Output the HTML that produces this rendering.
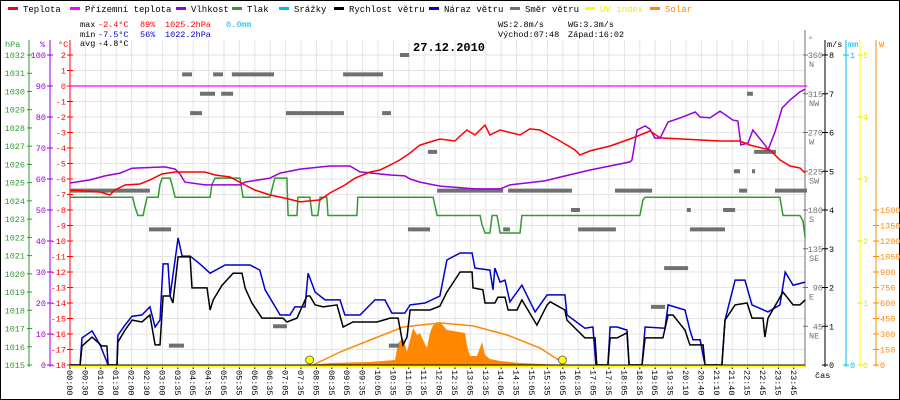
<!DOCTYPE html>
<html><head><meta charset="utf-8">
<style>
html,body{margin:0;padding:0;background:#fff;}
svg{display:block;font-family:"Liberation Mono",monospace;}
</style></head>
<body>
<svg id="chart" width="900" height="400" viewBox="0 0 900 400" xmlns="http://www.w3.org/2000/svg"></svg>
<script>
// ---- data ----
const timeLabels = ["00:00","00:30","01:00","01:30","02:00","02:30","03:00","03:35","04:05","04:35","05:05","05:35","06:05","06:35","07:05","07:35","08:05","08:35","09:05","09:35","10:05","10:35","11:05","11:35","12:05","12:35","13:05","13:35","14:05","14:35","15:05","15:35","16:05","16:35","17:05","17:35","18:05","18:35","19:05","19:35","20:10","20:40","21:10","21:40","22:15","22:45","23:15","23:45"];
const tempHours = [0,0.98,1.3,1.46,1.79,2.28,2.6,2.99,3.42,4.39,4.72,5.21,5.7,6.02,6.51,7.0,7.49,8.14,8.46,8.95,9.28,9.77,10.09,10.42,10.74,11.07,11.39,11.72,12.04,12.53,12.7,12.92,13.18,13.51,13.67,14.0,14.65,14.97,15.3,15.95,16.44,16.6,16.93,17.58,18.23,18.72,18.88,19.21,21.16,21.81,22.14,22.79,23.11,23.44,23.76,23.93];
const tempValues = [-6.71,-6.84,-7.03,-6.71,-6.39,-6.32,-6.06,-5.68,-5.55,-5.55,-5.74,-5.87,-6.39,-6.71,-7.03,-7.23,-7.48,-7.35,-6.9,-6.39,-5.94,-5.55,-5.42,-5.1,-4.77,-4.32,-3.81,-3.61,-3.42,-3.55,-3.23,-2.84,-3.16,-2.52,-3.16,-2.84,-3.16,-2.77,-2.84,-3.55,-4.13,-4.45,-4.19,-3.87,-3.42,-3.03,-2.9,-3.35,-3.55,-3.55,-3.81,-4.13,-4.77,-5.16,-5.29,-5.61];
const apparentHours = [0,24];
const apparentValues = [0,0];
const humHours = [0,0.65,1.14,1.63,2.02,3.09,3.42,3.58,3.74,4.39,5.53,5.7,6.51,6.84,7.49,8.46,9.11,9.44,10.42,10.9,11.07,11.39,12.04,13.18,14.0,14.32,15.46,15.95,16.93,18.23,18.29,18.46,18.72,18.88,19.04,19.21,19.47,19.86,20.35,20.51,20.83,21.16,21.58,21.74,21.84,22.07,22.23,22.62,22.72,22.95,23.18,23.44,23.76,23.93];
const humValues = [58.7,59.7,61,61.9,63.5,63.9,63.2,61.6,59,58.1,58.1,59,60.3,61.9,63.2,64.2,64.2,62.3,61.3,61,60,59,57.7,56.8,56.8,58.1,59.4,60.6,62.9,65.5,66.1,75.8,77.1,76.1,73.2,73.2,78.4,79.7,81.6,80,79.7,81.9,79,78.7,71,71.6,75.8,71,69.4,75.2,82.9,85.5,88.1,89];
const pressHours = [0,2.04,2.11,2.21,2.38,2.44,2.51,2.87,2.93,3.0,3.26,3.32,3.42,4.56,4.62,4.72,5.53,5.63,6.51,6.61,6.67,7.06,7.1,7.39,7.42,7.81,7.88,8.07,8.14,8.36,8.4,9.34,9.37,11.82,11.95,13.35,13.41,13.51,13.67,13.74,13.9,14.0,14.65,14.71,18.55,18.65,18.72,23.11,23.21,23.76,23.86,23.93];
const pressValues = [1024.2,1024.2,1023.7,1023.2,1023.2,1023.7,1024.2,1024.2,1024.9,1025.25,1025.25,1024.9,1024.2,1024.2,1024.9,1025.25,1025.25,1024.2,1024.2,1024.9,1025.25,1025.25,1023.2,1023.2,1024.2,1024.2,1023.2,1023.2,1024.2,1024.2,1023.2,1023.2,1024.2,1024.2,1023.2,1023.2,1022.7,1022.24,1022.24,1023.2,1023.2,1022.24,1022.24,1023.2,1023.2,1024.05,1024.2,1024.2,1023.2,1023.2,1022.9,1022.0];
const windHours = [0,0.33,0.39,0.72,1.04,1.2,1.24,1.53,1.56,1.79,2.02,2.34,2.6,2.77,2.93,3.03,3.26,3.35,3.52,3.91,3.97,4.46,4.56,4.66,4.95,5.31,5.6,5.7,5.92,6.25,6.93,7.06,7.39,7.71,7.81,7.98,8.24,8.69,8.89,9.21,9.99,10.42,10.68,10.84,10.97,11.07,11.72,12.04,12.27,12.7,13.09,13.12,13.44,13.51,13.83,13.93,14.16,14.26,14.55,14.71,15.2,15.53,15.63,16.11,16.18,16.76,17.09,17.15,17.51,17.58,17.81,18.13,18.2,18.62,18.72,19.3,19.47,19.63,20.02,20.18,20.61,20.67,21.22,21.32,21.65,22.04,22.2,22.56,22.62,22.72,23.21,23.54,23.76,23.93];
const windValues = [0,0,0.49,0.72,0.49,0.49,0,0,0.59,0.9,1.16,1.11,1.29,0.52,0.52,1.78,1.78,1.6,2.79,2.79,1.99,1.99,1.42,1.68,2.06,2.37,2.37,1.99,1.6,1.21,1.21,1.11,1.21,1.78,1.78,1.55,1.5,1.55,0.98,1.11,1.11,1.21,1.21,0.52,0.72,1.42,1.42,1.52,1.88,2.4,2.4,1.99,1.94,1.6,1.6,1.75,1.75,1.42,1.42,1.68,1.03,1.55,1.63,1.42,1.16,0.7,0.7,0,0,0.7,0.7,0.83,0,0,0.7,0.7,1.29,1.29,0.9,0.52,0.52,0,0,1.16,1.55,1.6,1.21,1.21,0.72,1.21,1.88,1.55,1.55,1.68];
const gustHours = [0,0.33,0.39,0.72,0.98,1.24,1.53,1.56,1.79,2.02,2.34,2.6,2.77,2.93,3.03,3.19,3.26,3.52,3.65,3.91,4.23,4.56,5.05,5.86,6.18,6.35,6.84,7.16,7.32,7.65,7.75,7.98,8.3,8.79,8.95,9.44,9.93,10.25,10.48,10.9,11.07,11.56,12.04,12.27,12.7,13.09,13.18,13.67,13.77,13.83,14.0,14.16,14.32,14.71,15.14,15.53,16.11,16.18,16.76,17.02,17.12,17.51,17.58,17.81,18.13,18.2,18.62,18.72,19.37,19.47,20.02,20.18,20.28,20.51,20.67,21.22,21.32,21.65,21.97,22.2,22.72,23.11,23.28,23.54,23.93];
const gustValues = [0,0,0.7,0.88,0.52,0,0,0.77,1.03,1.26,1.29,1.5,0.98,1.16,2.61,2.61,1.78,3.28,2.81,2.81,2.61,2.37,2.58,2.58,2.45,1.94,1.29,1.29,1.5,1.5,2.37,1.88,1.68,1.68,1.29,1.29,1.68,1.68,1.34,1.34,1.55,1.6,1.78,2.71,2.89,2.89,2.5,2.45,1.94,2.5,2.14,2.19,1.63,2.06,1.37,1.81,1.81,1.29,0.95,0.98,0,0,0.98,0.98,0.9,0,0,0.98,0.95,1.55,1.42,0.9,0.65,0.65,0,0,1.16,2.19,2.19,1.55,1.37,1.55,2.4,2.06,2.14];
const dirStart = [3.65,4.66,5.27,8.89,10.74,4.23,4.92,3.91,7.03,10.16,0,2.57,11.0,11.65,11.95,14.26,17.74,21.78,22.95,22.27,22.04,21.61,22.2,16.31,20.08,21.26,14.1,16.54,20.18,19.34,18.91,6.61,3.22,10.38];
const dirEnd   = [3.97,4.98,6.64,10.19,11.04,4.72,5.31,4.3,8.92,10.45,2.6,3.29,11.72,11.95,14.1,16.34,18.95,22.04,23.99,22.98,22.23,21.81,22.3,16.6,20.21,21.65,14.32,17.77,21.32,20.12,19.37,7.06,3.71,10.71];
const dirDegrees = [337.5,337.5,337.5,337.5,360,315,315,292.5,292.5,292.5,202.5,157.5,157.5,247.5,202.5,202.5,202.5,202.5,202.5,247.5,315,225,225,180,180,180,157.5,157.5,157.5,112.5,67.5,45,22.5,22.5];
const solarHours = [7.81,8.46,9.77,10.58,10.68,10.84,10.97,11.17,11.3,11.39,11.49,11.62,11.72,11.82,12.04,12.27,12.86,12.92,13.02,13.25,13.41,13.51,13.67,14.0,14.65,16.05];
const solarValues = [0,19,29,48,213,261,126,358,290,310,242,165,310,387,416,339,310,194,87,87,223,97,58,39,19,0];
const clearSkyHours = [7.91,8.79,9.77,10.84,12.04,13.12,14.23,15.3,16.05];
const clearSkyValues = [0,126,242,368,407,378,290,165,19];
const sunEvents = [7.8,16.03];
const hpaTicks = [1015,1016,1017,1018,1019,1020,1021,1022,1023,1024,1025,1026,1027,1028,1029,1030,1031,1032];
const humTicks = [0,10,20,30,40,50,60,70,80,90,100];
const tempTicks = [2,1,0,-1,-2,-3,-4,-5,-6,-7,-8,-9,-10,-11,-12,-13,-14,-15,-16,-17,-18];
const dirTicks = [360,315,270,225,180,135,90,45];
const dirNames = ["N","NW","W","SW","S","SE","E","NE"];
const windTicks = [0,1,2,3,4,5,6,7,8];
const uvTicks = [0,1,2,3,4,5];
const solarTicks = [0,150,300,450,600,750,900,1050,1200,1350,1500];

// ---- scales ----
const X = h => 70 + h * 30.72;
const yT = t => 55 + (2 - t) * 15.5;
const yH = p => 365 - p * 3.1;
const yP = hp => 365 - (hp - 1015) * 18.235;
const yW = v => 365 - v * 38.75;
const yD = d => 365 - d / 360 * 310;
const yS = w => 365 - w * 0.103333;
const yUV = u => 365 - u * 62;

const FS = 8.5;
const svg = document.getElementById('chart');
const NS = 'http://www.w3.org/2000/svg';
function mk(tag, attrs, parent) {
  const e = document.createElementNS(NS, tag);
  for (const k in attrs) e.setAttribute(k, attrs[k]);
  (parent || svg).appendChild(e);
  return e;
}
function txt(s, x, y, fill, anchor, size, weight) {
  const t = mk('text', {x: x, y: y, fill: fill, 'font-size': size || FS, 'text-anchor': anchor || 'start', 'font-weight': weight || 'normal'});
  t.textContent = s;
  return t;
}
function pts(hs, vs, fy) { return hs.map((h, i) => X(h).toFixed(1) + ',' + fy(vs[i]).toFixed(1)).join(' '); }

// frame
let el = mk('rect', {x: 0.5, y: 0.5, width: 899, height: 399, fill: '#fff', stroke: '#000'});



// grid
for (let i = 0; i < timeLabels.length; i++) {
  const gx = 70 + i * 15.4;
  el = mk('line', {x1: gx, y1: 40, x2: gx, y2: 365, stroke: '#e4e4e4', 'stroke-width': 1});
  
  
}
for (const t of tempTicks) {
  el = mk('line', {x1: 70, y1: yT(t), x2: 805, y2: yT(t), stroke: '#e4e4e4', 'stroke-width': 1});
  
  
}

// legend
const legend = [["Teplota","#ff0000",8],["Přízemní teplota","#ff00ff",70],["Vlhkost","#9900dd",176],["Tlak","#339933",232],["Srážky","#00bbee",279],["Rychlost větru","#000000",334],["Náraz větru","#0000cc",429],["Směr větru","#707070",510],["UV index","#ffff00",585],["Solar","#ff8800",650]];
for (const [name, col, lx] of legend) {
  el = mk('line', {x1: lx, y1: 8.5, x2: lx + 10, y2: 8.5, stroke: col, 'stroke-width': 3});
  
  
  const tc = name === 'UV index' ? '#eeee00' : (name === 'Solar' ? '#ff8800' : '#000');
  el = txt(name, lx + 15, 12, tc, 'start', 9);
  
  
}

// stats
const stats = [["max",80,27,"#000"],["-2.4°C",98,27,"#ff0000"],["89%",140,27,"#ff0000"],["1025.2hPa",165,27,"#ff0000"],["0.0mm",226,27,"#00bbee"],
  ["min",80,37,"#000"],["-7.5°C",98,37,"#0000cc"],["56%",140,37,"#0000cc"],["1022.2hPa",165,37,"#0000cc"],
  ["avg",80,46,"#000"],["-4.8°C",98,46,"#000"],
  ["WS:2.8m/s",498,27,"#000"],["WG:3.3m/s",568,27,"#000"],["Východ:07:48",498,37,"#000"],["Západ:16:02",568,37,"#000"]];
for (const [s, sx, sy, c] of stats) {
  el = txt(s, sx, sy, c, 'start', FS);
  
  
}
el = txt('27.12.2010', 413, 51, '#000', 'start', 12, 'bold');



// left axes
el = mk('line', {x1: 29, y1: 40, x2: 29, y2: 367, stroke: '#339933'});


el = mk('line', {x1: 50, y1: 40, x2: 50, y2: 367, stroke: '#9900dd'});


el = mk('line', {x1: 70, y1: 40, x2: 70, y2: 367, stroke: '#ff0000'});


el = txt('hPa', 5, 47, '#339933', 'start', FS);


el = txt('%', 40, 47, '#9900dd', 'start', FS);


el = txt('°C', 58, 47, '#ff0000', 'start', FS);


for (const v of hpaTicks) {
  mk('line', {x1: 27, y1: yP(v), x2: 32, y2: yP(v), stroke: '#339933'});
  el = txt(String(v), 25, yP(v) + 3, '#339933', 'end', FS);
  
  
}
for (const v of humTicks) {
  mk('line', {x1: 47, y1: yH(v), x2: 53, y2: yH(v), stroke: '#9900dd'});
  el = txt(String(v), 46, yH(v) + 3, '#9900dd', 'end', FS);
  
  
}
for (const v of tempTicks) {
  mk('line', {x1: 67, y1: yT(v), x2: 73, y2: yT(v), stroke: '#ff0000'});
  el = txt(String(v), 66, yT(v) + 3, '#ff0000', 'end', FS);
  
  
}

// right axes
el = mk('line', {x1: 805, y1: 30, x2: 805, y2: 367, stroke: '#707070'});


el = mk('line', {x1: 825, y1: 40, x2: 825, y2: 367, stroke: '#000'});


el = mk('line', {x1: 846, y1: 40, x2: 846, y2: 367, stroke: '#00bbee'});


el = mk('line', {x1: 860, y1: 40, x2: 860, y2: 367, stroke: '#ffff00'});


el = mk('line', {x1: 876, y1: 40, x2: 876, y2: 367, stroke: '#ff8800'});


el = txt('°', 808, 42, '#707070', 'start', FS);


el = txt('m/s', 827, 47, '#000', 'start', FS);


el = txt('mm', 848, 47, '#00bbee', 'start', FS);


el = txt('W', 879, 47, '#ff8800', 'start', FS);


dirTicks.forEach((d, i) => {
  mk('line', {x1: 803, y1: yD(d), x2: 808, y2: yD(d), stroke: '#707070'});
  el = txt(String(d), 823, yD(d) + 3, '#707070', 'end', FS);
  
  
  el = txt(dirNames[i], 809, yD(d) + 12, '#707070', 'start', FS);
  
  
});
for (const v of windTicks) {
  mk('line', {x1: 822, y1: yW(v), x2: 828, y2: yW(v), stroke: '#000'});
  el = txt(String(v), 829, yW(v) + 3, '#000', 'start', FS);
  
  
}
for (const v of [0, 1]) {
  const ry = 365 - v * 310;
  mk('line', {x1: 843, y1: ry, x2: 849, y2: ry, stroke: '#00bbee'});
  el = txt(String(v), 850, ry + 3, '#00bbee', 'start', FS);
  
  
}
for (const v of uvTicks) {
  mk('line', {x1: 857, y1: yUV(v), x2: 863, y2: yUV(v), stroke: '#eeee00'});
  el = txt(String(v), 863, yUV(v) + 3, '#e6e600', 'start', FS);
  
  
}
for (const v of solarTicks) {
  mk('line', {x1: 873, y1: yS(v), x2: 879, y2: yS(v), stroke: '#ff8800'});
  el = txt(String(v), 880, yS(v) + 3, '#ff8800', 'start', FS);
  
  
}

// x axis labels
timeLabels.forEach((lab, i) => {
  const lx = 70 + i * 15.4;
  mk('line', {x1: lx, y1: 365, x2: lx, y2: 369, stroke: '#000'});
  el = txt(lab, 0, 0, '#000', 'start', FS);
  el.setAttribute('transform', 'translate(' + (lx - 3) + ',370) rotate(90)');
  
  
});
el = txt('čas', 815, 378, '#000', 'start', FS);



// solar fill
const solarPoly = X(solarHours[0]) + ',365 ' + pts(solarHours, solarValues, yS) + ' ' + X(solarHours[solarHours.length - 1]) + ',365';
el = mk('polygon', {points: solarPoly, fill: '#ff8800'});


el = mk('polyline', {points: pts(clearSkyHours, clearSkyValues, yS), fill: 'none', stroke: '#ff8800', 'stroke-width': 1.5});



// direction bars
dirDegrees.forEach((d, i) => {
  el = mk('rect', {x: X(dirStart[i]), y: yD(d) - 2, width: X(dirEnd[i]) - X(dirStart[i]), height: 4, fill: '#707070'});
  
  
});

// series lines
el = mk('polyline', {points: pts(apparentHours, apparentValues, yT), fill: 'none', stroke: '#ff00ff', 'stroke-width': 1.2});


el = mk('polyline', {points: pts(pressHours, pressValues, yP), fill: 'none', stroke: '#339933', 'stroke-width': 1.5});


el = mk('polyline', {points: pts(humHours, humValues, yH), fill: 'none', stroke: '#9900dd', 'stroke-width': 1.5});


el = mk('polyline', {points: pts(tempHours, tempValues, yT), fill: 'none', stroke: '#ff0000', 'stroke-width': 1.5});


el = mk('polyline', {points: pts(gustHours, gustValues, yW), fill: 'none', stroke: '#0000cc', 'stroke-width': 1.5});


el = mk('polyline', {points: pts(windHours, windValues, yW), fill: 'none', stroke: '#000', 'stroke-width': 1.5});



// baseline / uv
el = mk('line', {x1: 70, y1: 365, x2: 805, y2: 365, stroke: '#000', 'stroke-width': 1});


el = mk('line', {x1: 70, y1: 366.5, x2: 805, y2: 366.5, stroke: '#ffff00', 'stroke-width': 2});



// sunrise/sunset
sunEvents.forEach(h => {
  el = mk('circle', {cx: X(h), cy: 360, r: 4, fill: '#ffff00', stroke: '#555', 'stroke-width': 0.8});
  
  
});
</script>
</body></html>
